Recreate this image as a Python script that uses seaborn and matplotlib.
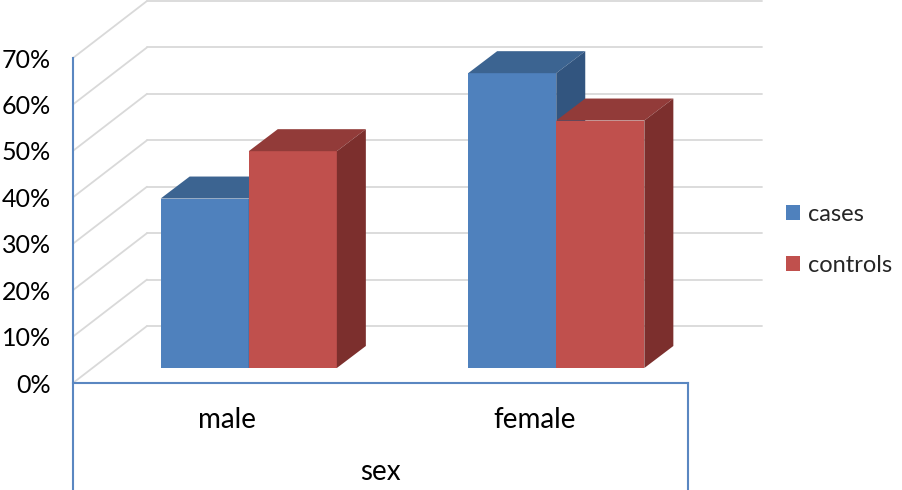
import pandas as pd
import matplotlib
matplotlib.use("Agg")
import matplotlib.pyplot as plt
from matplotlib.patches import Polygon
import seaborn as sns

# Data (share of each group by sex)
sex = ["male", "female"]
groups = ["cases", "controls"]
cases = [0.365, 0.635]
controls = [0.467, 0.533]
yticks = [0.0, 0.1, 0.2, 0.3, 0.4, 0.5, 0.6, 0.7]

df = pd.DataFrame({
    "sex": sex * 2,
    "group": [groups[0]] * 2 + [groups[1]] * 2,
    "pct": cases + controls,
})

# Colours: front / top / side faces
front = ["#4F81BD", "#C0504D"]
top = ["#3C6491", "#923B39"]
side = ["#32557F", "#7C2F2D"]
grid_col = "#D9D9D9"
axis_col = "#5A87C1"

sns.set_style("white")
plt.rcParams["font.family"] = ["Lato", "DejaVu Sans"]

W, H = 903, 490
fig = plt.figure(figsize=(W / 100, H / 100), dpi=100)
# front plane of the 3D box, in pixels
left_px, right_px, base_px, top_px = 73, 688, 383, 58
ax = fig.add_axes([left_px / W, (H - base_px) / H,
                   (right_px - left_px) / W, (base_px - top_px) / H])

sns.barplot(data=df, x="sex", y="pct", hue="group", palette=front,
            width=0.573, saturation=1, edgecolor="none", ax=ax, zorder=3)
ax.set_xlim(-0.5, 1.5)
ax.set_ylim(0, 0.7)

# pixel -> data unit conversion
ux = 2.0 / (right_px - left_px)
uy = 0.7 / (base_px - top_px)

# back wall and side wall gridlines
bx, by = 74 * ux, 57 * uy
for t in yticks:
    ax.plot([-0.5 + bx, 1.5 + bx], [t + by, t + by], color=grid_col, lw=1.3,
            clip_on=False, zorder=1)
    ax.plot([-0.5, -0.5 + bx], [t, t + by], color=grid_col, lw=1.3,
            clip_on=False, zorder=1)

# shift bars into the box and add top / side faces
sx, sy = 22 * ux, 15 * uy
dx, dy = 29 * ux, 22 * uy
for i, cont in enumerate(ax.containers):
    for rect in cont:
        rect.set_x(rect.get_x() + sx)
        rect.set_y(rect.get_y() + sy)
        rect.set_zorder(3 + i)
        rect.set_clip_on(False)
        x0, w, h = rect.get_x(), rect.get_width(), rect.get_height()
        y1 = rect.get_y() + h
        y0 = rect.get_y()
        ax.add_patch(Polygon([(x0, y1), (x0 + w, y1), (x0 + w + dx, y1 + dy),
                              (x0 + dx, y1 + dy)], closed=True, fc=top[i],
                             ec="none", zorder=3 + i, clip_on=False))
        ax.add_patch(Polygon([(x0 + w, y0), (x0 + w + dx, y0 + dy),
                              (x0 + w + dx, y1 + dy), (x0 + w, y1)], closed=True,
                             fc=side[i], ec="none", zorder=3 + i, clip_on=False))

# axis frame: left axis runs down through the category area
cat_depth = 106 * uy
ax.spines["top"].set_visible(False)
for s in ["left", "bottom", "right"]:
    ax.spines[s].set_color(axis_col)
    ax.spines[s].set_linewidth(1.5)
ax.spines["left"].set_bounds(-cat_depth, 0.7)
ax.spines["right"].set_bounds(-cat_depth, 0)

ax.set_yticks(yticks)
ax.set_yticklabels([f"{round(t * 100)}%" for t in yticks])
ax.tick_params(axis="y", length=0, pad=16, labelsize=18, labelcolor="black")
ax.tick_params(axis="x", length=0, pad=17, labelsize=20, labelcolor="black")
ax.set_xlabel("sex", fontsize=20, labelpad=19, color="black")
ax.set_ylabel("")

ax.legend(loc="center left", bbox_to_anchor=(786 / W, 1 - 240 / H),
          bbox_transform=fig.transFigure, frameon=False, fontsize=17,
          handlelength=0.6, handleheight=0.6, handletextpad=0.35,
          labelspacing=1.25, borderpad=0, borderaxespad=0, title=None)

fig.savefig("out.png", dpi=100)
